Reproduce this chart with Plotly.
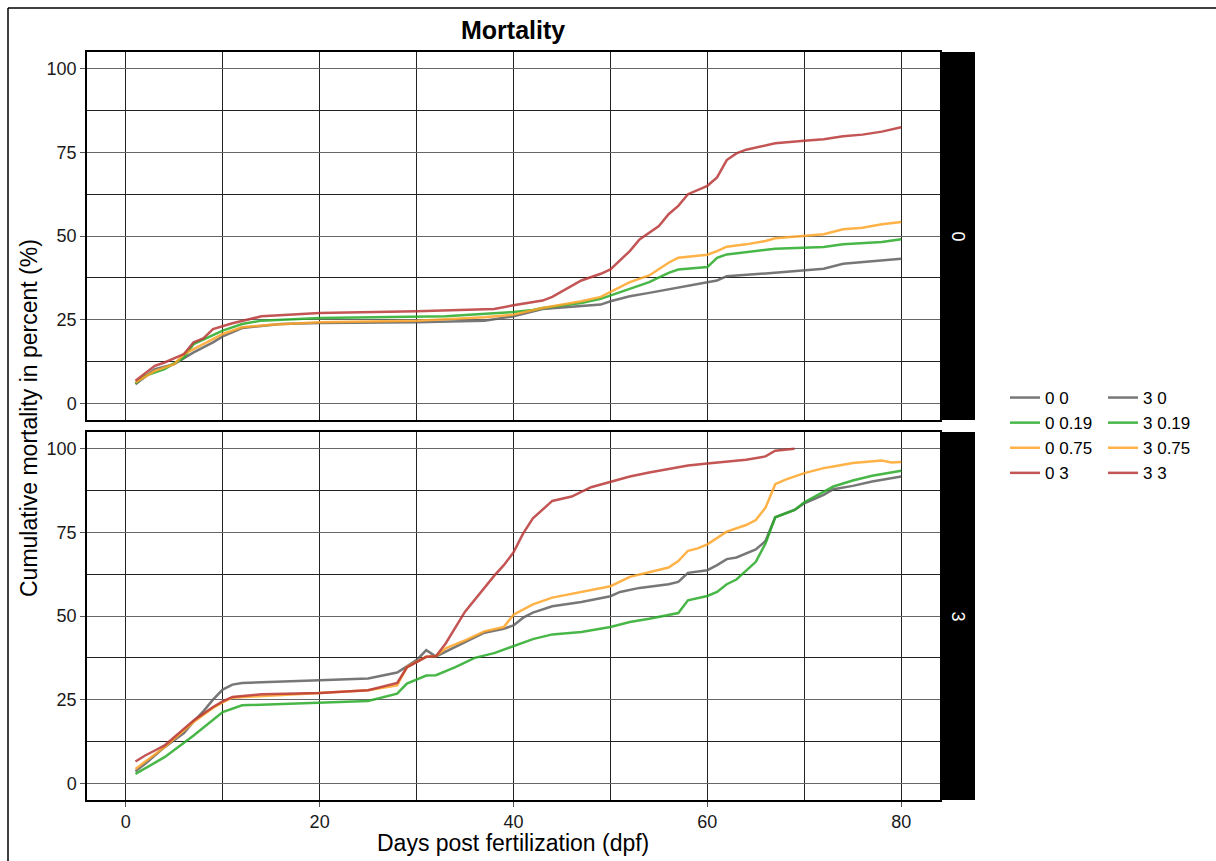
import plotly.graph_objects as go
from plotly.subplots import make_subplots

# ---- data: cumulative mortality (%) by day post fertilization ----
# facet "0"
d_0_0 = [1, 3, 5, 7, 9, 10, 12, 16, 20, 30, 37, 40, 43, 49, 50, 52, 54, 57, 60, 61, 62, 66, 70, 72, 74, 76, 78, 80]
v_0_0 = [5.7, 10.2, 11.7, 15.2, 18.2, 20, 22.5, 23.7, 24, 24.2, 24.7, 26, 28.2, 29.5, 30.5, 32, 33, 34.7, 36.2, 36.7, 38, 38.8, 39.8, 40.2, 41.7, 42.2, 42.6, 43.2]

d_0_019 = [1, 2, 4, 6, 7, 10, 12, 14, 20, 33, 40, 42, 43, 47, 49, 50, 52, 54, 56, 57, 60, 61, 62, 67, 72, 74, 78, 80]
v_0_019 = [6, 8.2, 10.2, 13.7, 17.7, 21.7, 23.7, 24.7, 25.5, 26, 27.3, 27.9, 28.5, 30, 31.2, 32.2, 34, 36.2, 39, 40, 40.7, 43.5, 44.5, 46.2, 46.7, 47.5, 48.2, 49]

d_0_075 = [1, 3, 5, 6, 8, 10, 12, 15, 20, 30, 37, 40, 43, 47, 49, 50, 52, 54, 56, 57, 60, 61, 62, 64, 66, 67, 70, 72, 74, 76, 78, 80]
v_0_075 = [6.2, 9.7, 11.7, 14.7, 17.7, 20.7, 22.7, 23.5, 24.2, 24.7, 25.7, 26.5, 28.5, 30.5, 31.8, 33.2, 36.2, 38.2, 42, 43.5, 44.4, 45.5, 46.8, 47.5, 48.5, 49.3, 50, 50.5, 52, 52.5, 53.5, 54.2]

d_0_3 = [1, 3, 4, 6, 7, 8, 9, 11, 14, 20, 30, 38, 40, 43, 44, 45, 47, 49, 50, 52, 53, 55, 56, 57, 58, 60, 61, 62, 63, 64, 67, 70, 72, 74, 76, 78, 80]
v_0_3 = [6.7, 11.2, 12.2, 14.7, 18.2, 19.4, 22.2, 23.9, 26, 27, 27.5, 28.2, 29.3, 30.7, 31.8, 33.5, 36.7, 38.7, 40, 45.5, 49, 53, 56.5, 59, 62.5, 65, 67.5, 72.7, 74.7, 75.8, 77.7, 78.5, 78.9, 79.8, 80.3, 81.2, 82.5]

# facet "3"
d_3_0 = [1, 2, 4, 6, 7, 8, 9, 10, 11, 12, 20, 25, 28, 29, 30, 31, 32, 35, 37, 39, 40, 41, 42, 44, 47, 50, 51, 53, 56, 57, 58, 60, 61, 62, 63, 65, 66, 67, 69, 70, 72, 73, 75, 77, 80]
v_3_0 = [3.6, 5.8, 10.8, 15, 18.5, 21.5, 25, 28, 29.5, 30, 30.8, 31.3, 33.1, 35, 36.8, 39.8, 37.9, 42.2, 45, 46.2, 47.2, 49.5, 51, 52.9, 54.2, 55.9, 57.2, 58.4, 59.5, 60.2, 62.9, 63.7, 65.2, 67, 67.5, 69.9, 72.4, 79.5, 81.7, 83.7, 86.2, 87.9, 88.9, 90.2, 91.7]

d_3_019 = [1, 4, 7, 10, 12, 20, 25, 28, 29, 31, 32, 34, 36, 38, 40, 42, 44, 47, 50, 52, 54, 57, 58, 60, 61, 62, 63, 65, 66, 67, 69, 70, 73, 75, 77, 80]
v_3_019 = [2.8, 7.8, 14.3, 21.3, 23.3, 24, 24.6, 26.8, 29.8, 32.2, 32.3, 34.7, 37.5, 38.9, 41, 43.1, 44.5, 45.2, 46.7, 48.2, 49.2, 50.9, 54.7, 56, 57.2, 59.5, 60.9, 66.2, 71.7, 79.5, 81.7, 84, 88.7, 90.5, 91.9, 93.4]

d_3_075 = [1, 4, 7, 9, 10, 11, 20, 25, 28, 29, 31, 32, 33, 35, 37, 39, 40, 42, 44, 46, 48, 50, 52, 54, 56, 57, 58, 59, 60, 62, 64, 65, 66, 67, 68, 70, 72, 73, 75, 78, 79, 80]
v_3_075 = [4.3, 10.8, 18.3, 22.5, 24.2, 25.6, 27, 27.8, 29.3, 34.8, 37.8, 38, 40.3, 42.7, 45.4, 46.7, 50.4, 53.5, 55.5, 56.7, 57.7, 58.9, 61.7, 63.2, 64.5, 66.4, 69.5, 70.2, 71.4, 75.2, 77.2, 78.7, 82.4, 89.4, 90.7, 92.7, 94.2, 94.7, 95.7, 96.5, 95.9, 96]

d_3_3 = [1, 2, 3, 4, 7, 9, 10, 11, 14, 20, 25, 28, 29, 30, 31, 32, 33, 35, 37, 38, 39, 40, 41, 42, 44, 46, 48, 50, 52, 54, 56, 58, 60, 62, 64, 66, 67, 69]
v_3_3 = [6.5, 8.3, 9.8, 11.3, 18.8, 22.8, 24.5, 25.8, 26.6, 27, 27.8, 30, 34.6, 36.3, 37.8, 38, 41.8, 51.3, 58.5, 62, 65.2, 69, 74.7, 79.2, 84.4, 85.7, 88.5, 90, 91.7, 92.9, 94, 95, 95.6, 96.2, 96.7, 97.7, 99.4, 100]

facets = ["0", "3"]
series = [
    # (facet, dose, days, values, colour)
    ("0", "0", d_0_0, v_0_0, "rgba(95,95,95,0.85)"),
    ("0", "0.19", d_0_019, v_0_019, "rgba(40,170,40,0.85)"),
    ("0", "0.75", d_0_075, v_0_075, "rgba(255,165,40,0.85)"),
    ("0", "3", d_0_3, v_0_3, "rgba(185,55,55,0.85)"),
    ("3", "0", d_3_0, v_3_0, "rgba(95,95,95,0.85)"),
    ("3", "0.19", d_3_019, v_3_019, "rgba(40,170,40,0.85)"),
    ("3", "0.75", d_3_075, v_3_075, "rgba(255,165,40,0.85)"),
    ("3", "3", d_3_3, v_3_3, "rgba(185,55,55,0.85)"),
]

x_ticks = [0, 20, 40, 60, 80]
y_ticks = [0, 25, 50, 75, 100]

# ---- layout geometry (pixels) ----
W, H = 1216, 861
ML, MR, MT, MB = 87, 241, 52, 61
pw, ph = W - ML - MR, H - MT - MB
x_end = (940 - ML) / pw          # plot area ends where the strip begins
top_dom = [(800 - 420) / ph, 1.0]
bot_dom = [0.0, (800 - 432) / ph]

fig = make_subplots(rows=2, cols=1, shared_xaxes=True)

for facet, dose, d, v, col in series:
    row = 1 if facet == "0" else 2
    fig.add_trace(
        go.Scatter(
            x=d, y=v, mode="lines", name=f"{facet} {dose}",
            line=dict(color=col, width=2.5),
            legend="legend" if facet == "0" else "legend2",
        ),
        row=row, col=1,
    )

font_family = "Liberation Sans, Arial, sans-serif"
tick_font = dict(family=font_family, size=18, color="#1a1a1a")

axis_common = dict(
    showline=True, linecolor="black", linewidth=1.5, mirror=True,
    showgrid=True, zeroline=False,
    ticks="outside", ticklen=5, tickcolor="#555", tickwidth=1.2,
    tickfont=tick_font,
)

for xa, show in (("xaxis", False), ("xaxis2", True)):
    fig.layout[xa].update(
        range=[-4, 84], tickvals=x_ticks, showticklabels=show,
        domain=[0, x_end], gridcolor="#222", gridwidth=1,
        minor=dict(dtick=10, tick0=0, showgrid=True, gridcolor="#222", gridwidth=1, ticks=""),
        ticks="outside" if show else "",
        **{k: val for k, val in axis_common.items() if k != "ticks"},
    )

for ya, dom in (("yaxis", top_dom), ("yaxis2", bot_dom)):
    fig.layout[ya].update(
        range=[-5, 105], tickvals=y_ticks, domain=dom,
        gridcolor="#666", gridwidth=1.4,
        minor=dict(dtick=12.5, tick0=0, showgrid=True, gridcolor="#222", gridwidth=1, ticks=""),
        **axis_common,
    )

shapes = []
annotations = []
# facet strips on the right
for facet, dom in zip(facets, (top_dom, bot_dom)):
    shapes.append(dict(type="rect", xref="paper", yref="paper",
                       x0=x_end, x1=1.0, y0=dom[0], y1=dom[1],
                       fillcolor="black", line=dict(width=0)))
    annotations.append(dict(text=facet, xref="paper", yref="paper",
                            x=(x_end + 1.0) / 2, y=(dom[0] + dom[1]) / 2,
                            xanchor="center", yanchor="middle",
                            showarrow=False, textangle=90,
                            font=dict(family=font_family, size=18, color="white")))

# outer frame (top and left edges)
fx0 = (8 - ML) / pw
fy1 = 1 + (MT - 8) / ph
shapes.append(dict(type="line", xref="paper", yref="paper", x0=fx0, x1=(W + 10 - ML) / pw,
                   y0=fy1, y1=fy1, line=dict(color="black", width=1.5)))
shapes.append(dict(type="line", xref="paper", yref="paper", x0=fx0, x1=fx0,
                   y0=fy1, y1=-(MB + 10) / ph, line=dict(color="black", width=1.5)))

annotations += [
    dict(text="<b>Mortality</b>", xref="paper", yref="paper",
         x=(513 - ML) / pw, y=1 + (MT - 30) / ph, showarrow=False,
         xanchor="center", yanchor="middle",
         font=dict(family=font_family, size=25, color="black")),
    dict(text="Cumulative mortality in percent (%)", xref="paper", yref="paper",
         x=(29 - ML) / pw, y=(800 - 418) / ph, showarrow=False, textangle=-90,
         xanchor="center", yanchor="middle",
         font=dict(family=font_family, size=23, color="black")),
    dict(text="Days post fertilization (dpf)", xref="paper", yref="paper",
         x=(513 - ML) / pw, y=-(843 - 800) / ph, showarrow=False,
         xanchor="center", yanchor="middle",
         font=dict(family=font_family, size=23, color="black")),
]

legend_style = dict(
    font=dict(family=font_family, size=17, color="black"),
    bgcolor="rgba(0,0,0,0)", itemwidth=30, xanchor="left", yanchor="top",
    tracegroupgap=0,
)

fig.update_layout(
    width=W, height=H,
    margin=dict(l=ML, r=MR, t=MT, b=MB),
    paper_bgcolor="white", plot_bgcolor="white",
    shapes=shapes, annotations=annotations,
    legend=dict(x=(1005 - ML) / pw, y=(800 - 380) / ph, **legend_style),
    legend2=dict(x=(1103 - ML) / pw, y=(800 - 380) / ph, **legend_style),
    showlegend=True,
)

fig.write_html("out.html")
